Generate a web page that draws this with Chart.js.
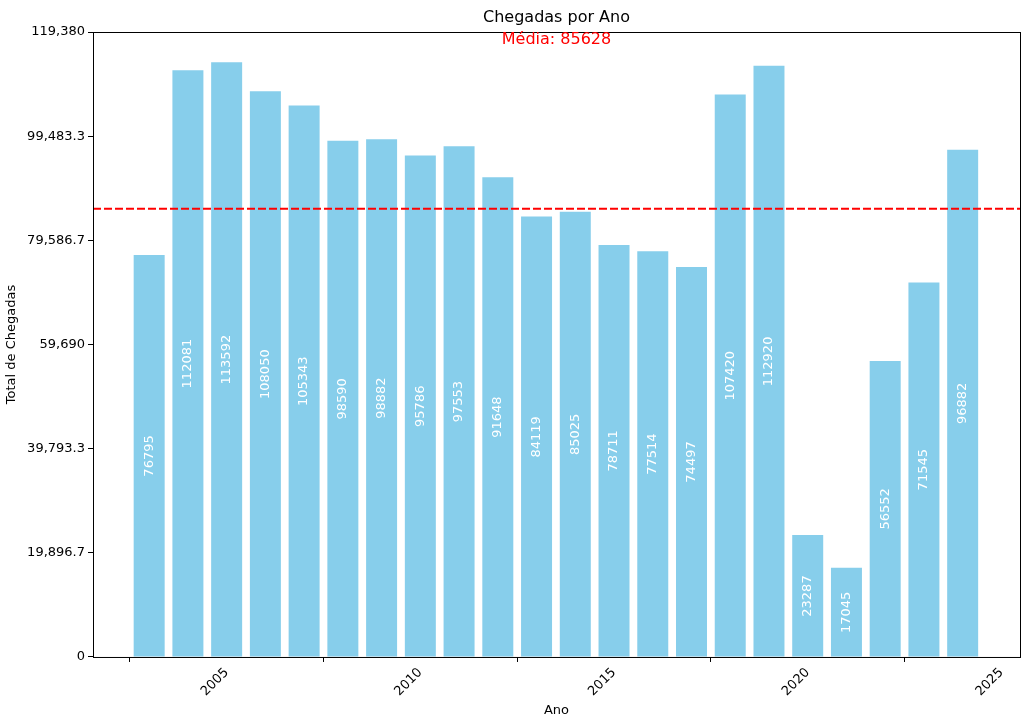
<!DOCTYPE html>
<html>
<head>
<meta charset="utf-8">
<script src="https://cdn.jsdelivr.net/npm/chart.js@4"></script>
<style>body{margin:0;background:#fff}#wrap{width:1031px;height:722px}</style>
</head>
<body>
<div id="wrap"><canvas id="c"></canvas></div>
<script>
const years = [2003,2004,2005,2006,2007,2008,2009,2010,2011,2012,2013,2014,2015,2016,2017,2018,2019,2020,2021,2022,2023,2024];
const arrivals = [76795,112081,113592,108050,105343,98590,98882,95786,97553,91648,84119,85025,78711,77514,74497,107420,112920,23287,17045,56552,71545,96882];
const mean = 85628;

const font = "DejaVu Sans";
Chart.defaults.font.family = font;
Chart.defaults.color = "#000";

const extras = {
  id: "extras",
  afterDatasetsDraw(chart) {
    const {ctx, chartArea: a, scales: {x, y}} = chart;
    // bar labels
    const meta = chart.getDatasetMeta(0);
    ctx.save();
    ctx.fillStyle = "#fff";
    ctx.font = "13px " + font;
    ctx.textAlign = "center";
    ctx.textBaseline = "middle";
    meta.data.forEach((bar, i) => {
      ctx.save();
      ctx.translate(bar.x, y.getPixelForValue(arrivals[i] / 2));
      ctx.rotate(-Math.PI / 2);
      ctx.fillText(String(arrivals[i]), 0, 0);
      ctx.restore();
    });
    // mean line
    const my = y.getPixelForValue(mean);
    ctx.strokeStyle = "red";
    ctx.lineWidth = 2;
    ctx.setLineDash([8, 3]);
    ctx.beginPath();
    ctx.moveTo(a.left, my);
    ctx.lineTo(a.right, my);
    ctx.stroke();
    ctx.setLineDash([]);
    // frame
    ctx.strokeStyle = "#000";
    ctx.lineWidth = 1;
    ctx.strokeRect(a.left + 0.5, a.top + 0.5, a.right - a.left, a.bottom - a.top);
    // titles
    const cx = (a.left + a.right) / 2;
    ctx.font = "16px " + font;
    const t2 = "Média: " + mean;
    const w = ctx.measureText(t2).width;
    ctx.fillStyle = "#fff";
    ctx.fillRect(cx - w / 2 - 4, a.top + 1, w + 8, 18);
    ctx.fillStyle = "#000";
    ctx.fillText("Chegadas por Ano", cx, 18);
    ctx.fillStyle = "red";
    ctx.fillText(t2, cx, 40);
    ctx.restore();
  }
};

new Chart(document.getElementById("c"), {
  type: "bar",
  data: {
    datasets: [{
      data: years.map((yr, i) => ({x: yr, y: arrivals[i]})),
      backgroundColor: "#87ceeb",
      categoryPercentage: 0.8,
      barPercentage: 1
    }]
  },
  options: {
    responsive: true,
    maintainAspectRatio: false,
    animation: false,
    layout: {padding: {top: 32, right: 11, left: 0, bottom: 0}},
    plugins: {legend: {display: false}, tooltip: {enabled: false}},
    scales: {
      x: {
        type: "linear",
        min: 2001.55,
        max: 2025.48,
        offset: false,
        grid: {display: true, drawOnChartArea: false, tickLength: 5, color: "#000"},
        border: {display: false},
        afterBuildTicks: s => { s.ticks = [2005, 2010, 2015, 2020, 2025].map(v => ({value: v})); },
        ticks: {minRotation: 45, maxRotation: 45, font: {size: 13}, callback: v => String(v)},
        title: {display: true, text: "Ano", font: {size: 13}, padding: {top: 0, bottom: 4}}
      },
      y: {
        min: 0,
        max: 119380,
        grid: {display: true, drawOnChartArea: false, tickLength: 5, color: "#000"},
        border: {display: false},
        afterFit: s => { s.width = 93; },
        ticks: {stepSize: 20000, font: {size: 13}},
        title: {display: true, text: "Total de Chegadas", font: {size: 13}}
      }
    }
  },
  plugins: [extras]
});
</script>
</body>
</html>
